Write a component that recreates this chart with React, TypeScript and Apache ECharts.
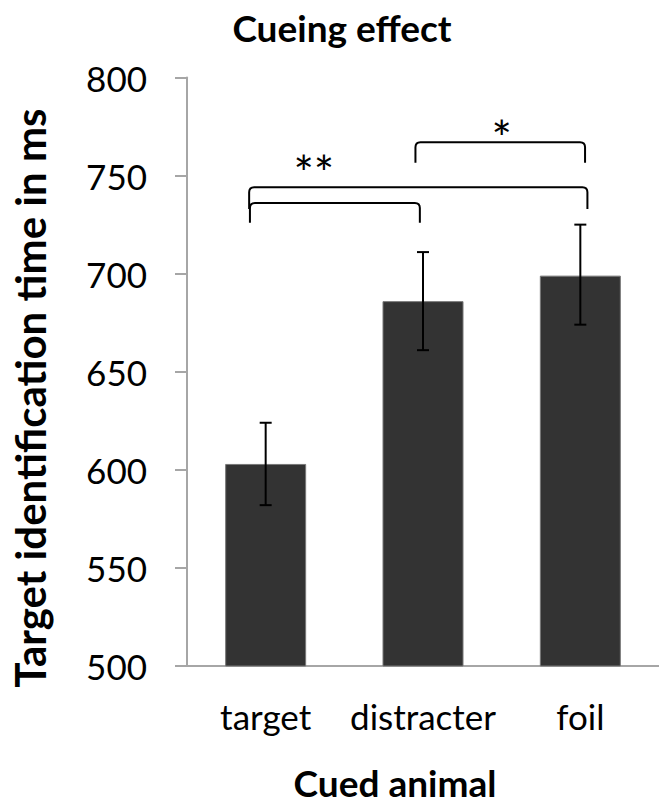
import React, { useEffect, useRef } from "react";
import * as echarts from "echarts";

const categories = ["target", "distracter", "foil"];
const meanTimes = [603, 686, 699];
const errHigh = [624, 711, 725];
const errLow = [582, 661, 674];
const yTicks = [500, 550, 600, 650, 700, 750, 800];

// significance brackets: [xStart, xEnd, level, endLevel] in category units / ms
const bracketStart = [-0.1, -0.105, 0.952];
const bracketEnd = [0.98, 2.045, 2.03];
const bracketLevel = [736, 744, 767];
const bracketFoot = [726, 733, 756.5];
const starText = ["**", "*"];
const starX = [0.306, 1.5];
const starY = [757, 775];

const FONT = "Lato, 'Open Sans', sans-serif";

export default function App() {
  const ref = useRef<HTMLDivElement>(null);
  useEffect(() => {
    if (!ref.current) return;
    const chart = echarts.init(ref.current, null, { renderer: "svg" });
    const errData = categories.map((_, i) => [i, errLow[i], errHigh[i]]);
    const bracketData = bracketStart.map((s, i) => [s, bracketEnd[i], bracketLevel[i], bracketFoot[i]]);
    const starData = starText.map((t, i) => [starX[i], starY[i], t]);
    chart.setOption({
      animation: false,
      backgroundColor: "#ffffff",
      title: {
        text: "Cueing effect",
        left: 337,
        textAlign: "center",
        top: 4,
        textStyle: { fontFamily: FONT, fontWeight: "bold", fontSize: 37, color: "#000" },
      },
      graphic: [
        {
          type: "text",
          x: 30,
          y: 398,
          rotation: Math.PI / 2,
          style: {
            text: "Target identification time in ms",
            font: `bold 42px ${FONT}`,
            fill: "#000",
            textAlign: "center",
            textVerticalAlign: "middle",
          },
        },
      ],
      grid: { left: 187, right: -11, top: 77.5, bottom: 140 },
      xAxis: [
        {
          type: "category",
          data: categories,
          axisLine: { show: true, onZero: false, lineStyle: { color: "#a6a6a6", width: 2 } },
          axisTick: { show: false },
          axisLabel: { fontFamily: FONT, fontSize: 35, color: "#000", margin: 32, interval: 0 },
          name: "Cued animal",
          nameLocation: "middle",
          nameGap: 98,
          nameTextStyle: { fontFamily: FONT, fontWeight: "bold", fontSize: 37, color: "#000", padding: [0, 56, 0, 0] },
        },
        { type: "value", min: -0.5, max: 2.5, show: false },
      ],
      yAxis: {
        type: "value",
        min: 500,
        max: 800,
        interval: 50,
        splitLine: { show: false },
        axisLine: { show: true, onZero: false, lineStyle: { color: "#a6a6a6", width: 2 } },
        axisTick: { show: true, length: 12, lineStyle: { color: "#a6a6a6", width: 2 } },
        axisLabel: {
          fontFamily: FONT,
          fontSize: 35,
          color: "#000",
          margin: 40,
          formatter: (v: number) => (yTicks.includes(v) ? String(v) : ""),
        },
      },
      series: [
        {
          type: "bar",
          data: meanTimes,
          barWidth: 81,
          itemStyle: { color: "#333333", borderColor: "#777777", borderWidth: 1 },
        },
        {
          type: "custom",
          xAxisIndex: 1,
          data: errData,
          encode: { x: 0, y: [1, 2] },
          renderItem: (params: any, api: any) => {
            const x = api.value(0);
            const lo = api.coord([x, api.value(1)]);
            const hi = api.coord([x, api.value(2)]);
            const hw = 6;
            const st = { stroke: "#000", lineWidth: 2 };
            return {
              type: "group",
              children: [
                { type: "line", shape: { x1: lo[0], y1: lo[1], x2: hi[0], y2: hi[1] }, style: st },
                { type: "line", shape: { x1: hi[0] - hw, y1: hi[1], x2: hi[0] + hw, y2: hi[1] }, style: st },
                { type: "line", shape: { x1: lo[0] - hw, y1: lo[1], x2: lo[0] + hw, y2: lo[1] }, style: st },
              ],
            };
          },
          z: 5,
        },
        {
          type: "custom",
          xAxisIndex: 1,
          data: bracketData,
          encode: { x: [0, 1], y: [2, 3] },
          renderItem: (params: any, api: any) => {
            const a = api.coord([api.value(0), api.value(2)]);
            const b = api.coord([api.value(1), api.value(2)]);
            const foot = api.coord([api.value(0), api.value(3)])[1];
            const r = 5;
            const x1 = a[0], x2 = b[0], y = a[1];
            const d = `M${x1},${foot} L${x1},${y + r} Q${x1},${y} ${x1 + r},${y} L${x2 - r},${y} Q${x2},${y} ${x2},${y + r} L${x2},${foot}`;
            return {
              type: "path",
              shape: { pathData: d },
              style: { stroke: "#000", lineWidth: 2, fill: "none" },
            };
          },
          z: 6,
        },
        {
          type: "custom",
          xAxisIndex: 1,
          data: starData,
          encode: { x: 0, y: 1 },
          renderItem: (params: any, api: any) => {
            const p = api.coord([api.value(0), api.value(1)]);
            return {
              type: "text",
              x: p[0],
              y: p[1] - 13,
              style: {
                text: starText[params.dataIndex],
                font: `48px ${FONT}`,
                fill: "#000",
                textAlign: "center",
                textVerticalAlign: "top",
              },
            };
          },
          z: 6,
        },
      ],
    });
    return () => chart.dispose();
  }, []);
  return (
    <div
      ref={ref}
      style={{ position: "fixed", left: 0, top: 0, width: 659, height: 806, background: "#fff" }}
    />
  );
}
